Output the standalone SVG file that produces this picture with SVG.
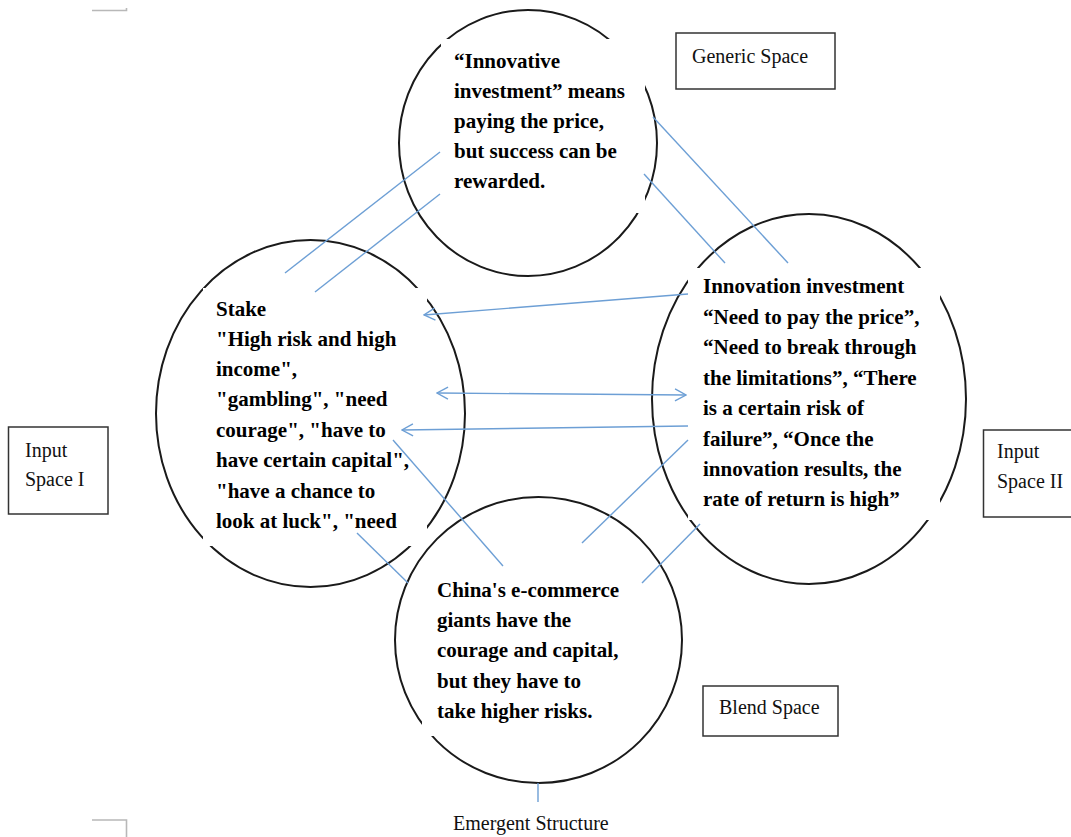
<svg xmlns="http://www.w3.org/2000/svg" width="1071" height="837" viewBox="0 0 1071 837">
  <style>
    .circ { fill: none; stroke: #1a1a1a; stroke-width: 2; }
    .mask { fill: #ffffff; stroke: none; }
    .body { font-family: "Liberation Serif", "Times New Roman", serif; font-weight: bold; font-size: 21px; fill: #000; }
    .box { fill: #ffffff; stroke: #333333; stroke-width: 1.5; }
    .lbl { font-family: "Liberation Serif", "Times New Roman", serif; font-size: 20px; fill: #111; }
    .conn { fill: none; stroke: #6d9fd5; stroke-width: 1.4; }
    .corner { fill: none; stroke: #b8b8b8; stroke-width: 1.6; }
  </style>
  <defs>
    <marker id="arrow" viewBox="-1 -7 13 14" refX="11" refY="0" markerWidth="13" markerHeight="14" markerUnits="userSpaceOnUse" orient="auto-start-reverse">
      <path d="M0,-6 L11,0 L0,6" fill="none" stroke="#6d9fd5" stroke-width="1.4"/>
    </marker>
  </defs>
  <rect width="1071" height="837" fill="#ffffff"/>

  <g id="page-corners">
    <path class="corner" d="M92,10.5 H126.5 V8"/>
    <path class="corner" d="M92,820 H126.5 V837"/>
  </g>

  <g id="node-generic-circle">
    <ellipse class="circ" cx="528" cy="143" rx="129" ry="133"/>
    <rect class="mask" x="441" y="39" width="204" height="174"/>
    <text class="body" x="454">
      <tspan x="454" y="68">“Innovative</tspan>
      <tspan x="454" y="98">investment” means</tspan>
      <tspan x="454" y="128">paying the price,</tspan>
      <tspan x="454" y="158">but success can be</tspan>
      <tspan x="454" y="188">rewarded.</tspan>
    </text>
  </g>

  <g id="node-input1-circle">
    <ellipse class="circ" cx="310.5" cy="413.5" rx="154.5" ry="173.5"/>
    <rect class="mask" x="203" y="288" width="224" height="258"/>
    <text class="body">
      <tspan x="216" y="316">Stake</tspan>
      <tspan x="216" y="346">"High risk and high</tspan>
      <tspan x="216" y="376">income",</tspan>
      <tspan x="216" y="406">"gambling", "need</tspan>
      <tspan x="216" y="437">courage", "have to</tspan>
      <tspan x="216" y="467">have certain capital",</tspan>
      <tspan x="216" y="498">"have a chance to</tspan>
      <tspan x="216" y="528">look at luck", "need</tspan>
    </text>
  </g>

  <g id="node-input2-circle">
    <ellipse class="circ" cx="809" cy="399" rx="157" ry="185"/>
    <rect class="mask" x="688" y="268" width="252" height="252"/>
    <text class="body">
      <tspan x="703" y="293">Innovation investment</tspan>
      <tspan x="703" y="324">“Need to pay the price”,</tspan>
      <tspan x="703" y="354">“Need to break through</tspan>
      <tspan x="703" y="385">the limitations”, “There</tspan>
      <tspan x="703" y="415">is a certain risk of</tspan>
      <tspan x="703" y="446">failure”, “Once the</tspan>
      <tspan x="703" y="476">innovation results, the</tspan>
      <tspan x="703" y="506">rate of return is high”</tspan>
    </text>
  </g>

  <g id="node-blend-circle">
    <ellipse class="circ" cx="538.5" cy="640" rx="143.5" ry="143"/>
    <rect class="mask" x="422" y="566" width="218" height="170"/>
    <text class="body">
      <tspan x="437" y="597">China's e-commerce</tspan>
      <tspan x="437" y="627">giants have the</tspan>
      <tspan x="437" y="657">courage and capital,</tspan>
      <tspan x="437" y="688">but they have to</tspan>
      <tspan x="437" y="718">take higher risks.</tspan>
    </text>
  </g>

  <g id="box-generic-space">
    <rect class="box" x="676" y="33" width="159" height="56"/>
    <text class="lbl" x="692" y="63">Generic Space</text>
  </g>

  <g id="box-input-space-1">
    <rect class="box" x="8.5" y="427" width="99.5" height="87"/>
    <text class="lbl"><tspan x="25" y="457">Input</tspan><tspan x="25" y="486">Space I</tspan></text>
  </g>

  <g id="box-input-space-2">
    <rect class="box" x="983.5" y="430" width="100" height="87"/>
    <text class="lbl"><tspan x="997" y="458">Input</tspan><tspan x="997" y="488">Space II</tspan></text>
  </g>

  <g id="box-blend-space">
    <rect class="box" x="703" y="686" width="135" height="50"/>
    <text class="lbl" x="719" y="714">Blend Space</text>
  </g>

  <g id="label-emergent-structure">
    <text class="lbl" x="453" y="830">Emergent Structure</text>
  </g>

  <g id="connectors">
    <line class="conn" x1="440" y1="152" x2="285" y2="273"/>
    <line class="conn" x1="440" y1="194" x2="315" y2="292"/>
    <line class="conn" x1="653" y1="117" x2="788" y2="263"/>
    <line class="conn" x1="644" y1="174" x2="725" y2="263"/>
    <line class="conn" x1="688" y1="294" x2="424" y2="315" marker-end="url(#arrow)"/>
    <line class="conn" x1="437" y1="393" x2="686" y2="395" marker-start="url(#arrow)" marker-end="url(#arrow)"/>
    <line class="conn" x1="688" y1="426" x2="402" y2="430" marker-end="url(#arrow)"/>
    <line class="conn" x1="393" y1="440" x2="503" y2="566"/>
    <line class="conn" x1="357" y1="533" x2="408" y2="583"/>
    <line class="conn" x1="582" y1="543" x2="688" y2="440"/>
    <line class="conn" x1="642" y1="583" x2="700" y2="524"/>
    <line class="conn" x1="538" y1="783" x2="538" y2="802"/>
  </g>
</svg>
